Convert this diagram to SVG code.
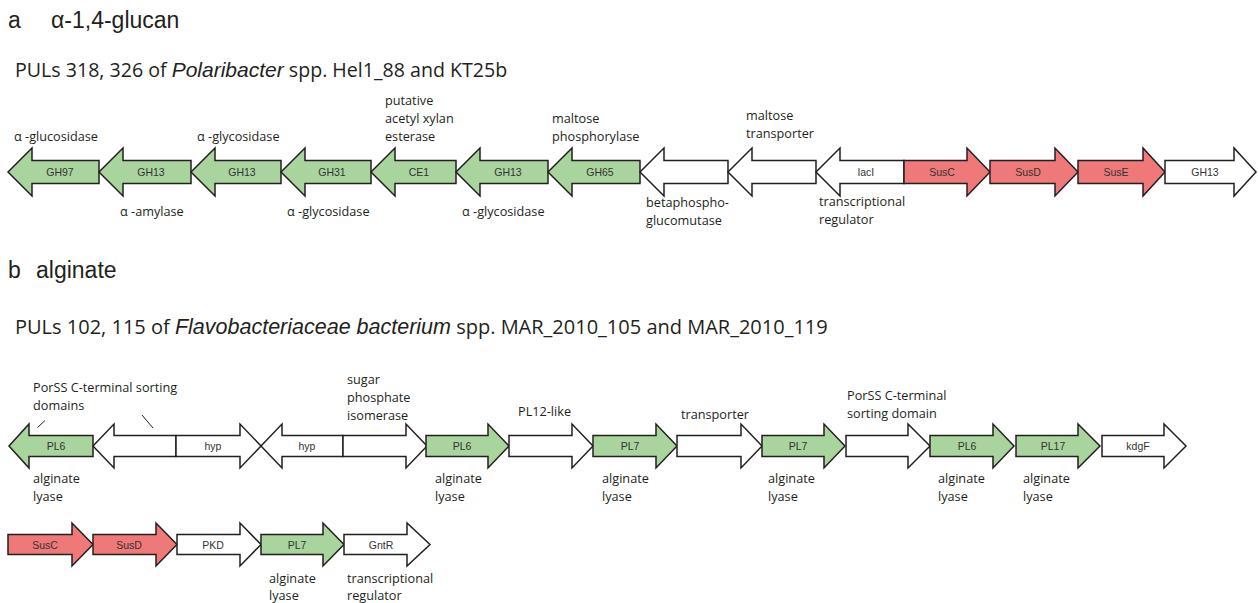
<svg xmlns="http://www.w3.org/2000/svg" width="1258" height="603" viewBox="0 0 1258 603">
<style>
.g{fill:#a9d49e;stroke:#231f20;stroke-width:1.5;stroke-linejoin:miter}
.r{fill:#ef7878;stroke:#231f20;stroke-width:1.5}
.w{fill:#ffffff;stroke:#231f20;stroke-width:1.5}
.in{font-family:"Liberation Sans",Arial,sans-serif;font-size:10.5px;fill:#333;text-anchor:middle}
.lb{font-family:"Open Sans","Noto Sans",sans-serif;font-size:12.7px;fill:#231f20}
.tt{font-family:"Liberation Sans",Arial,sans-serif;font-size:23px;fill:#231f20}
.st{font-family:"Open Sans","Noto Sans",sans-serif;font-size:19.6px;fill:#231f20}
.st2{font-family:"Open Sans","Noto Sans",sans-serif;font-size:20px;fill:#231f20}
.it{font-family:"Liberation Sans",Arial,sans-serif;font-style:italic;font-size:21px}
.it2{font-family:"Liberation Sans",Arial,sans-serif;font-style:italic;font-size:21.5px}
</style>
<rect width="1258" height="603" fill="#fff"/>
<g id="titles">
<text class="tt" x="8" y="28">a</text><text class="tt" x="51" y="28">α-1,4-glucan</text>
<text class="st" x="15" y="77">PULs 318, 326 of <tspan class="it">Polaribacter</tspan> spp. Hel1_88 and KT25b</text>
<text class="tt" x="8" y="278">b</text><text class="tt" x="36" y="278">alginate</text>
<text class="st2" x="15" y="334">PULs 102, 115 of <tspan class="it2">Flavobacteriaceae bacterium</tspan> spp. MAR_2010_105 and MAR_2010_119</text>
</g>
<g id="a1"><path class="g" d="M8,172 L32,148 L32,160.5 L99,160.5 L99,183.5 L32,183.5 L32,196 Z"/><text class="in" x="60" y="176">GH97</text><text class="lb" x="14" y="141">α -glucosidase</text></g>
<g id="a2"><path class="g" d="M99,172 L123,148 L123,160.5 L191,160.5 L191,183.5 L123,183.5 L123,196 Z"/><text class="in" x="151" y="176">GH13</text><text class="lb" x="120" y="216">α -amylase</text></g>
<g id="a3"><path class="g" d="M191,172 L215,148 L215,160.5 L281,160.5 L281,183.5 L215,183.5 L215,196 Z"/><text class="in" x="242" y="176">GH13</text><text class="lb" x="197" y="141">α -glycosidase</text></g>
<g id="a4"><path class="g" d="M281,172 L305,148 L305,160.5 L371,160.5 L371,183.5 L305,183.5 L305,196 Z"/><text class="in" x="332" y="176">GH31</text><text class="lb" x="287" y="216">α -glycosidase</text></g>
<g id="a5"><path class="g" d="M371,172 L395,148 L395,160.5 L456,160.5 L456,183.5 L395,183.5 L395,196 Z"/><text class="in" x="419" y="176">CE1</text><text class="lb" x="385" y="105">putative</text><text class="lb" x="385" y="123">acetyl xylan</text><text class="lb" x="385" y="141">esterase</text></g>
<g id="a6"><path class="g" d="M456,172 L480,148 L480,160.5 L548,160.5 L548,183.5 L480,183.5 L480,196 Z"/><text class="in" x="508" y="176">GH13</text><text class="lb" x="462" y="216">α -glycosidase</text></g>
<g id="a7"><path class="g" d="M548,172 L572,148 L572,160.5 L640,160.5 L640,183.5 L572,183.5 L572,196 Z"/><text class="in" x="600" y="176">GH65</text><text class="lb" x="552" y="123">maltose</text><text class="lb" x="552" y="141">phosphorylase</text></g>
<g id="a8"><path class="w" d="M640,172 L664,148 L664,160.5 L728,160.5 L728,183.5 L664,183.5 L664,196 Z"/><text class="lb" x="646" y="207">betaphospho-</text><text class="lb" x="646" y="225">glucomutase</text></g>
<g id="a9"><path class="w" d="M728,172 L752,148 L752,160.5 L816,160.5 L816,183.5 L752,183.5 L752,196 Z"/><text class="lb" x="746" y="120">maltose</text><text class="lb" x="746" y="138">transporter</text></g>
<g id="a10"><path class="w" d="M816,172 L840,148 L840,160.5 L904,160.5 L904,183.5 L840,183.5 L840,196 Z"/><text class="in" x="866" y="176">lacI</text><text class="lb" x="819" y="206">transcriptional</text><text class="lb" x="819" y="224">regulator</text></g>
<g id="a11"><path class="r" d="M904,160.5 L967,160.5 L967,148 L990,172 L967,196 L967,183.5 L904,183.5 Z"/><text class="in" x="942" y="176">SusC</text></g>
<g id="a12"><path class="r" d="M990,160.5 L1055,160.5 L1055,148 L1078,172 L1055,196 L1055,183.5 L990,183.5 Z"/><text class="in" x="1028" y="176">SusD</text></g>
<g id="a13"><path class="r" d="M1078,160.5 L1143,160.5 L1143,148 L1165,172 L1143,196 L1143,183.5 L1078,183.5 Z"/><text class="in" x="1116" y="176">SusE</text></g>
<g id="a14"><path class="w" d="M1165,160.5 L1234,160.5 L1234,148 L1256,172 L1234,196 L1234,183.5 L1165,183.5 Z"/><text class="in" x="1205" y="176">GH13</text></g>
<g id="b1"><path class="g" d="M9,446 L29,424 L29,435.5 L93,435.5 L93,456.5 L29,456.5 L29,468 Z"/><text class="in" x="56" y="450">PL6</text><text class="lb" x="33" y="392">PorSS C-terminal sorting</text><text class="lb" x="33" y="410">domains</text><text class="lb" x="33" y="483">alginate</text><text class="lb" x="33" y="501">lyase</text></g>
<g id="b2"><path class="w" d="M93,446 L114,424 L114,435.5 L176,435.5 L176,456.5 L114,456.5 L114,468 Z"/></g>
<g id="b3"><path class="w" d="M176,435.5 L240,435.5 L240,424 L261,446 L240,468 L240,456.5 L176,456.5 Z"/><text class="in" x="213" y="450">hyp</text></g>
<g id="b4"><path class="w" d="M261,446 L282,424 L282,435.5 L343,435.5 L343,456.5 L282,456.5 L282,468 Z"/><text class="in" x="307" y="450">hyp</text></g>
<g id="b5"><path class="w" d="M343,435.5 L406,435.5 L406,424 L427,446 L406,468 L406,456.5 L343,456.5 Z"/><text class="lb" x="347" y="384">sugar</text><text class="lb" x="347" y="402">phosphate</text><text class="lb" x="347" y="420">isomerase</text></g>
<g id="b6"><path class="g" d="M426,435.5 L488,435.5 L488,424 L509,446 L488,468 L488,456.5 L426,456.5 Z"/><text class="in" x="462" y="450">PL6</text><text class="lb" x="435" y="483">alginate</text><text class="lb" x="435" y="501">lyase</text></g>
<g id="b7"><path class="w" d="M509,435.5 L572,435.5 L572,424 L593,446 L572,468 L572,456.5 L509,456.5 Z"/><text class="lb" x="518" y="416">PL12-like</text></g>
<g id="b8"><path class="g" d="M593,435.5 L656,435.5 L656,424 L677,446 L656,468 L656,456.5 L593,456.5 Z"/><text class="in" x="630" y="450">PL7</text><text class="lb" x="602" y="483">alginate</text><text class="lb" x="602" y="501">lyase</text></g>
<g id="b9"><path class="w" d="M677,435.5 L741,435.5 L741,424 L762,446 L741,468 L741,456.5 L677,456.5 Z"/><text class="lb" x="681" y="419">transporter</text></g>
<g id="b10"><path class="g" d="M762,435.5 L824,435.5 L824,424 L845,446 L824,468 L824,456.5 L762,456.5 Z"/><text class="in" x="798" y="450">PL7</text><text class="lb" x="768" y="483">alginate</text><text class="lb" x="768" y="501">lyase</text></g>
<g id="b11"><path class="w" d="M846,435.5 L908,435.5 L908,424 L930,446 L908,468 L908,456.5 L846,456.5 Z"/><text class="lb" x="847" y="400">PorSS C-terminal</text><text class="lb" x="847" y="418">sorting domain</text></g>
<g id="b12"><path class="g" d="M930,435.5 L993,435.5 L993,424 L1014,446 L993,468 L993,456.5 L930,456.5 Z"/><text class="in" x="967" y="450">PL6</text><text class="lb" x="938" y="483">alginate</text><text class="lb" x="938" y="501">lyase</text></g>
<g id="b13"><path class="g" d="M1016,435.5 L1078,435.5 L1078,424 L1100,446 L1078,468 L1078,456.5 L1016,456.5 Z"/><text class="in" x="1053" y="450">PL17</text><text class="lb" x="1023" y="483">alginate</text><text class="lb" x="1023" y="501">lyase</text></g>
<g id="b14"><path class="w" d="M1102,435.5 L1164,435.5 L1164,424 L1186,446 L1164,468 L1164,456.5 L1102,456.5 Z"/><text class="in" x="1138" y="450">kdgF</text></g>
<g id="c1"><path class="r" d="M8,534.5 L72,534.5 L72,523 L93,544.5 L72,566 L72,554.5 L8,554.5 Z"/><text class="in" x="45" y="548.5">SusC</text></g>
<g id="c2"><path class="r" d="M93,534.5 L156,534.5 L156,523 L177,544.5 L156,566 L156,554.5 L93,554.5 Z"/><text class="in" x="129" y="548.5">SusD</text></g>
<g id="c3"><path class="w" d="M177,534.5 L240,534.5 L240,523 L261,544.5 L240,566 L240,554.5 L177,554.5 Z"/><text class="in" x="213" y="548.5">PKD</text></g>
<g id="c4"><path class="g" d="M261,534.5 L323,534.5 L323,523 L344,544.5 L323,566 L323,554.5 L261,554.5 Z"/><text class="in" x="297" y="548.5">PL7</text><text class="lb" x="269" y="583">alginate</text><text class="lb" x="269" y="600">lyase</text></g>
<g id="c5"><path class="w" d="M344,534.5 L407,534.5 L407,523 L430,544.5 L407,566 L407,554.5 L344,554.5 Z"/><text class="in" x="381" y="548.5">GntR</text><text class="lb" x="347" y="583">transcriptional</text><text class="lb" x="347" y="600">regulator</text></g>
<g id="connectors" stroke="#231f20" stroke-width="1">
<line x1="37.5" y1="427.5" x2="45" y2="420.5"/>
<line x1="142" y1="415" x2="153" y2="428"/>
</g>
</svg>
